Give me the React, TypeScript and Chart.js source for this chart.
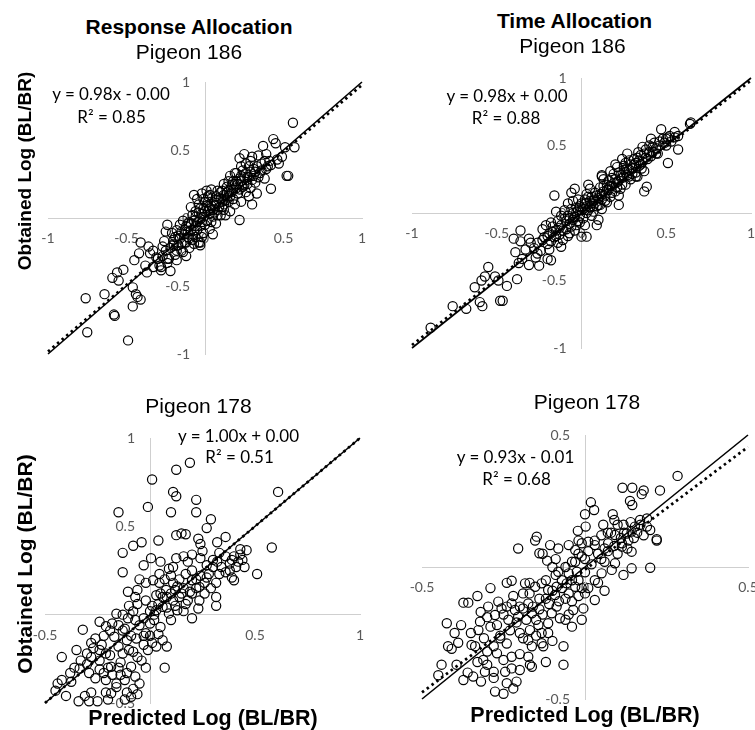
import React, { useEffect, useRef } from "react";
import { Chart, registerables } from "chart.js";

Chart.register(...registerables);

type Pt = [number, number];

// ---- tick labels ----
const ticksWide = [-1, -0.5, 0, 0.5, 1];
const ticksBLx = [-0.5, 0, 0.5, 1];
const ticksBLy = [-0.5, 0, 0.5, 1];
const ticksNarrow = [-0.5, 0, 0.5];

// ---- axis ranges (per panel: TL, TR, BL, BR) ----
const xMins = [-1, -1, -0.5, -0.5];
const xMaxs = [1, 1, 1, 0.5];
const yMins = [-1, -1, -0.5, -0.5];
const yMaxs = [1, 1, 1, 0.5];

// ---- trendlines ----
const slopes = [0.98, 0.98, 1.0, 0.93];
const intercepts = [-0.002, 0.002, 0.0, -0.01];
const eqTexts = ["y = 0.98x - 0.00", "y = 0.98x + 0.00", "y = 1.00x + 0.00", "y = 0.93x - 0.01"];
const r2Texts = ["R\u00B2 = 0.85", "R\u00B2 = 0.88", "R\u00B2 = 0.51", "R\u00B2 = 0.68"];

// ---- titles ----
const headTitles = ["Response Allocation", "Time Allocation"];
const pigeonTitles = ["Pigeon 186", "Pigeon 186", "Pigeon 178", "Pigeon 178"];
const yTitle = "Obtained Log (BL/BR)";
const xTitle = "Predicted Log (BL/BR)";

// ---- data: [predicted, obtained] ----
const resp186: Pt[] = [
  [-0.76,-0.59],[-0.64,-0.56],[-0.58,-0.71],[-0.575,-0.72],[-0.75,-0.84],[-0.49,-0.90],
  [-0.59,-0.44],[-0.55,-0.46],[-0.56,-0.40],[-0.52,-0.38],[-0.46,-0.51],[-0.44,-0.56],[-0.41,-0.60],[-0.46,-0.65],[-0.43,-0.58],
  [-0.45,-0.31],[-0.42,-0.26],[-0.41,-0.18],[-0.36,-0.21],[-0.35,-0.26],[-0.38,-0.35],[-0.37,-0.40],[-0.33,-0.36],[-0.29,-0.35],
  [-0.28,-0.385],[-0.22,-0.39],[-0.31,-0.29],[-0.33,-0.24],[-0.28,-0.36],[-0.24,-0.30],[-0.19,-0.27],[-0.15,-0.24],[-0.12,-0.18],[-0.2,-0.2],
  [-0.25,-0.10],[-0.24,-0.05],[-0.27,-0.21],[-0.20,-0.19],[-0.14,-0.25],[-0.18,-0.31],[-0.21,-0.11],[-0.18,-0.09],[-0.16,-0.15],
  [-0.11,-0.14],[-0.07,-0.19],[-0.03,-0.20],[-0.02,-0.14],[-0.03,-0.18],
  [-0.30,-0.30],[-0.27,-0.28],[-0.25,-0.24],[-0.23,-0.30],[-0.26,-0.17],[-0.22,-0.22],[-0.19,-0.14],[-0.24,-0.33],
  [-0.17,-0.20],[-0.15,-0.10],[-0.13,-0.18],[-0.12,-0.06],[-0.10,-0.22],[-0.14,-0.02],[-0.11,-0.10],[-0.16,-0.05],[-0.18,-0.24],
  [-0.12,-0.28],[-0.10,-0.15],[-0.13,-0.12],
  [-0.09,-0.04],[-0.08,0.02],[-0.07,-0.09],[-0.06,0.05],[-0.05,-0.03],[-0.04,0.10],[-0.03,-0.06],[-0.02,0.03],[-0.01,-0.11],
  [-0.06,-0.14],[-0.08,-0.12],[-0.05,0.14],[-0.02,0.18],[0.00,0.12],[-0.07,0.17],[0.01,0.20],[-0.04,-0.18],[-0.09,0.08],
  [-0.01,0.07],[-0.03,-0.01],[-0.06,-0.06],
  [0.01,-0.02],[0.02,0.05],[0.03,-0.08],[0.04,0.09],[0.05,0.01],[0.06,0.13],[0.07,-0.04],[0.08,0.06],[0.09,0.15],[0.02,0.16],
  [0.05,-0.12],[0.08,0.20],[0.03,0.03],[0.06,0.04],[0.10,0.02],[0.04,0.21],
  [0.11,0.08],[0.12,0.17],[0.13,0.02],[0.14,0.23],[0.15,0.12],[0.16,0.05],[0.17,0.19],[0.18,0.27],[0.19,0.10],[0.12,0.25],
  [0.16,0.31],[0.14,0.15],[0.18,0.14],[0.11,0.12],[0.20,0.22],[0.22,-0.015],
  [0.21,0.18],[0.22,0.29],[0.23,0.12],[0.24,0.35],[0.25,0.24],[0.26,0.19],[0.27,0.30],[0.28,0.38],[0.29,0.22],[0.25,0.47],
  [0.22,0.44],[0.29,0.42],[0.30,0.10],[0.23,0.31],[0.26,0.40],[0.20,0.33],[0.28,0.16],
  [0.31,0.31],[0.32,0.26],[0.33,0.38],[0.33,0.18],[0.35,0.33],[0.36,0.40],[0.37,0.53],[0.38,0.29],[0.39,0.47],[0.39,0.36],
  [0.41,0.42],[0.42,0.215],[0.42,0.39],[0.435,0.58],[0.45,0.55],[0.46,0.43],[0.47,0.40],[0.49,0.45],[0.51,0.52],[0.52,0.31],
  [0.53,0.31],[0.56,0.70],[0.57,0.52],[0.30,0.45],[0.34,0.46],[0.31,0.36],
  [-0.2,-0.16],[-0.17,-0.13],[-0.15,-0.19],[-0.13,-0.09],[-0.11,-0.04],[-0.09,-0.09],[-0.08,-0.16],[-0.07,-0.02],[-0.06,0.01],
  [-0.05,-0.09],[-0.04,0.04],[-0.03,0.07],[-0.02,-0.03],[-0.01,0.01],[0.0,0.05],[0.0,-0.05],[0.01,0.09],[0.02,0.12],[0.03,0.07],
  [0.04,-0.03],[0.05,0.06],[0.06,0.09],[0.07,0.11],[0.08,0.02],[0.09,0.08],[0.1,0.14],[0.11,0.2],[0.12,0.1],[0.13,0.13],
  [0.14,0.19],[0.15,0.2],[0.16,0.16],[0.17,0.24],[0.18,0.21],[0.19,0.25],[0.2,0.27],[0.21,0.25],[0.22,0.21],[0.23,0.27],
  [0.24,0.23],[0.25,0.3],[0.26,0.33],[0.27,0.25],[0.28,0.3],[0.29,0.34],[0.3,0.28],[0.32,0.34],[0.34,0.3],[0.36,0.35],
  [0.38,0.42],[0.4,0.38],[0.15,0.27],[0.1,0.19],[0.07,0.16],[0.19,0.33],[0.23,0.38],[-0.01,0.14],[0.03,0.17],[-0.1,-0.03],[0.12,0.06]
];

const time186: Pt[] = [
  [-0.89,-0.85],[-0.76,-0.69],[-0.68,-0.71],[-0.585,-0.69],[-0.60,-0.66],[-0.48,-0.65],[-0.465,-0.65],[-0.63,-0.55],
  [-0.59,-0.50],[-0.55,-0.40],[-0.57,-0.47],[-0.51,-0.47],[-0.49,-0.50],[-0.44,-0.54],[-0.38,-0.49],[-0.37,-0.37],
  [-0.39,-0.29],[-0.35,-0.34],[-0.36,-0.13],[-0.40,-0.19],[-0.36,-0.21],[-0.31,-0.19],[-0.30,-0.22],[-0.33,-0.27],
  [-0.31,-0.385],[-0.25,-0.39],[-0.26,-0.30],[-0.20,-0.34],[-0.18,-0.35],[-0.19,-0.27],[-0.12,-0.25],[-0.16,0.13],
  [-0.23,-0.12],[-0.21,-0.09],[-0.15,0.01],[0.0,-0.175],[0.03,-0.175],[0.12,0.27],[0.22,0.06],[0.37,0.16],[0.385,0.195],
  [0.32,0.27],[0.09,-0.09],[0.10,-0.05],[0.04,0.21],[-0.06,0.15],[-0.04,0.18],
  [0.64,0.66],[0.645,0.67],[0.47,0.62],[0.51,0.56],[0.55,0.56],[0.57,0.57],[0.41,0.55],[0.57,0.47],[0.51,0.37],[0.45,0.44],
  [0.335,0.45],[0.28,0.39],[0.25,0.32],[0.12,0.28],[0.20,0.36],[0.355,0.33],[0.41,0.42],
  [-0.28,-0.26],[-0.26,-0.22],[-0.24,-0.28],[-0.22,-0.18],[-0.2,-0.23],[-0.27,-0.33],[-0.23,-0.20],
  [-0.19,-0.15],[-0.18,-0.21],[-0.17,-0.10],[-0.16,-0.18],[-0.15,-0.13],[-0.14,-0.06],[-0.13,-0.16],[-0.12,-0.09],
  [-0.11,-0.20],[-0.10,-0.04],[-0.18,-0.07],[-0.14,-0.22],
  [-0.09,-0.12],[-0.08,-0.02],[-0.07,-0.08],[-0.06,0.03],[-0.05,-0.05],[-0.04,-0.13],[-0.03,0.01],[-0.02,-0.06],
  [-0.01,0.05],[-0.08,0.07],[-0.05,0.09],[-0.03,-0.09],[-0.1,0.02],[-0.02,0.1],[-0.07,-0.15],[-0.01,-0.02],
  [0.0,0.02],[0.01,-0.04],[0.02,0.07],[0.03,0.0],[0.04,0.12],[0.05,0.04],[0.06,-0.02],[0.07,0.09],[0.08,0.15],[0.09,0.05],
  [0.02,-0.09],[0.05,0.18],[0.07,0.01],[0.1,0.11],[0.03,0.14],[0.06,0.07],
  [0.11,0.06],[0.12,0.14],[0.13,0.20],[0.14,0.09],[0.15,0.17],[0.16,0.24],[0.17,0.12],[0.18,0.20],[0.19,0.29],[0.12,0.03],
  [0.15,0.08],[0.17,0.31],[0.13,0.25],[0.2,0.16],[0.11,0.19],[0.18,0.26],
  [0.21,0.23],[0.22,0.30],[0.23,0.18],[0.24,0.26],[0.25,0.35],[0.26,0.21],[0.27,0.28],[0.28,0.32],[0.29,0.25],[0.21,0.34],
  [0.24,0.40],[0.27,0.44],[0.3,0.29],[0.22,0.13],[0.26,0.37],
  [0.31,0.36],[0.32,0.30],[0.33,0.41],[0.34,0.35],[0.35,0.43],[0.36,0.38],[0.37,0.31],[0.38,0.47],[0.39,0.40],[0.40,0.50],
  [0.42,0.45],[0.43,0.52],[0.44,0.48],[0.46,0.53],[0.48,0.55],[0.5,0.5],[0.52,0.57],[0.36,0.49],[0.33,0.27],
  [-0.2,-0.17],[-0.17,-0.14],[-0.15,-0.17],[-0.13,-0.11],[-0.11,-0.13],[-0.09,-0.06],[-0.07,-0.04],[-0.06,-0.1],[-0.05,0.0],
  [-0.04,-0.03],[-0.03,0.04],[-0.02,0.02],[-0.01,-0.07],[0.0,0.07],[0.01,0.03],[0.02,0.1],[0.03,0.05],[0.04,0.02],[0.05,0.09],
  [0.06,0.12],[0.07,0.05],[0.08,0.1],[0.09,0.13],[0.1,0.06],[0.11,0.14],[0.12,0.1],[0.13,0.16],[0.14,0.13],[0.15,0.21],
  [0.16,0.17],[0.17,0.2],[0.18,0.15],[0.19,0.22],[0.2,0.25],[0.21,0.19],[0.22,0.24],[0.23,0.28],[0.24,0.21],[0.25,0.27],
  [0.26,0.3],[0.27,0.33],[0.28,0.27],[0.29,0.36],[0.3,0.33],[0.31,0.4],[0.32,0.37],[0.34,0.39],[0.35,0.36],[0.37,0.44],
  [0.38,0.41],[0.4,0.45],[0.42,0.49],[0.44,0.44],[0.46,0.5],[0.49,0.52],[0.5,0.55],[0.53,0.53],[0.55,0.6],[-0.12,-0.02],[-0.08,-0.17]
];

const resp178: Pt[] = [
  [0.19,0.86],[0.125,0.82],[0.01,0.765],[0.11,0.695],[0.125,0.67],[0.22,0.65],[-0.01,0.61],[0.10,0.58],[0.22,0.58],
  [-0.15,0.58],[0.29,0.54],[0.27,0.49],[0.61,0.695],[0.125,0.45],[0.15,0.46],[0.17,0.455],[0.23,0.43],[0.04,0.42],
  [-0.04,0.41],[-0.08,0.39],[0.36,0.44],[0.32,0.41],[0.24,0.40],[0.58,0.38],[0.43,0.37],[-0.13,0.35],[0.005,0.32],
  [-0.03,0.28],[-0.13,0.24],[0.045,0.23],[0.09,0.26],[0.125,0.32],
  [0.16,0.33],[0.20,0.34],[0.24,0.32],[0.27,0.28],[0.30,0.31],[0.33,0.35],[0.36,0.33],[0.39,0.31],[0.43,0.34],[0.46,0.365],
  [0.45,0.27],[0.41,0.27],[0.38,0.25],[0.33,0.23],[0.315,0.18],[0.29,0.15],[0.39,0.21],[0.40,0.195],[0.51,0.23],[0.315,0.05],
  [0.23,0.035],[0.20,-0.02],
  [0.11,0.18],[0.15,0.12],[0.17,0.06],[0.13,0.025],[0.09,0.007],[0.06,0.044],[0.03,0.025],[0.077,0.14],[0.235,0.157],
  [0.27,0.21],[0.20,0.195],[0.17,0.23],[0.315,0.10],[0.235,0.08],[0.11,0.08],[0.045,0.18],[0.015,0.195],[-0.02,0.18],
  [0.14,0.2],[0.19,0.13],[0.26,0.12],[0.08,0.1],[0.12,0.14],[0.2,0.25],[0.05,0.12],[0.1,0.22],[0.16,0.02],[0.22,0.2],
  [-0.105,0.13],[-0.06,0.14],[-0.02,0.08],[0.03,0.11],[-0.16,0.005],[-0.13,0.0],[-0.105,-0.02],[-0.24,-0.04],[-0.32,-0.085],
  [-0.26,-0.135],[-0.21,-0.065],[-0.17,-0.125],[-0.19,-0.09],[-0.11,-0.145],[-0.065,-0.135],[-0.02,-0.105],[0.03,-0.18],
  [0.08,-0.18],[0.06,-0.145],[0.07,-0.30],
  [-0.42,-0.24],[-0.335,-0.305],[-0.44,-0.39],[-0.42,-0.37],[-0.375,-0.38],[-0.34,-0.49],[-0.29,-0.49],[-0.28,-0.44],
  [-0.25,-0.49],[-0.30,-0.28],[-0.28,-0.24],[-0.24,-0.26],[-0.21,-0.22],[-0.29,-0.33],[-0.24,-0.31],[-0.21,-0.37],
  [-0.185,-0.295],[-0.16,-0.39],[-0.11,-0.33],[-0.09,-0.295],[-0.08,-0.42],[-0.09,-0.465],[-0.11,-0.44],[-0.16,-0.41],
  [-0.185,-0.445],[-0.08,-0.21],[-0.06,-0.24],[-0.03,-0.17],[-0.01,-0.20],[-0.21,-0.44],
  [-0.27,-0.19],[-0.23,-0.17],[-0.15,-0.18],[-0.13,-0.22],[-0.05,-0.06],[-0.07,-0.03],[0.0,-0.05],[0.02,0.0],[0.05,-0.07],
  [0.1,-0.03],[-0.35,-0.2],[-0.14,-0.27],[-0.02,-0.3],[-0.04,-0.26],[-0.12,-0.08],[-0.08,0.02],[-0.03,-0.02],[0.01,0.05],
  [-0.18,-0.05],[-0.06,0.06],[0.0,-0.12],[-0.1,-0.2],[-0.2,-0.3],[-0.14,-0.34],
  [0.0,0.02],[0.02,-0.03],[0.04,0.06],[0.06,0.1],[0.08,0.04],[0.1,0.12],[0.12,0.05],[0.14,0.1],[0.16,0.15],[0.18,0.08],
  [0.2,0.12],[0.22,0.15],[0.24,0.22],[0.26,0.18],[0.28,0.23],[0.3,0.27],[0.32,0.3],[0.34,0.27],[0.36,0.24],[0.38,0.29],
  [0.4,0.33],[0.42,0.3],[0.44,0.31],[0.13,0.16],[0.07,0.2],[0.11,0.27],[0.18,0.3],[0.25,0.36],[0.05,0.3],[-0.05,0.2],
  [-0.1,0.05],[-0.07,0.1],[-0.15,-0.06],[-0.22,-0.12],[-0.28,-0.16],[-0.3,-0.22],[-0.33,-0.26],[-0.36,-0.3],[-0.38,-0.33],
  [-0.26,-0.36],[-0.22,-0.33],[-0.18,-0.34],[-0.12,-0.37],[-0.07,-0.35],[-0.05,-0.39],[-0.03,-0.12],[0.01,-0.16],[0.04,-0.11],
  [-0.13,-0.09],[-0.09,-0.12],[-0.15,-0.3],[-0.19,-0.23],[-0.24,-0.2],[-0.45,-0.43],[-0.4,-0.46],[-0.31,-0.46],[-0.2,-0.48],
  [-0.12,-0.48],[-0.06,-0.45]
];

const time178: Pt[] = [
  [0.284,0.345],[0.115,0.30],[0.145,0.30],[0.18,0.29],[0.174,0.276],[0.23,0.29],[0.138,0.25],[0.145,0.235],[0.018,0.245],
  [0.028,0.216],[0.0,0.20],[0.085,0.20],[0.09,0.178],[0.056,0.16],[0.118,0.16],[0.169,0.178],[0.19,0.184],[0.19,0.153],
  [0.22,0.105],[-0.022,0.137],[0.002,0.153],[-0.148,0.115],[-0.107,0.083],[-0.05,0.083],[-0.02,0.10],[-0.01,0.09],
  [0.092,0.121],[0.128,0.127],[0.143,0.134],[0.133,0.10],[0.113,0.09],[0.071,0.09],[0.153,0.153],[-0.205,0.07],
  [-0.14,0.052],[-0.116,0.024],[-0.153,0.10],[-0.082,0.07],[-0.03,0.064],[0.01,0.096],[0.03,0.083],[0.06,0.07],
  [0.113,0.077],[0.143,0.058],[0.22,0.10],[0.20,-0.003],[0.143,-0.005],[0.118,-0.03],[0.092,0.014],[0.082,-0.011],
  [0.051,-0.024],[0.03,-0.05],[0.03,-0.125],[-0.005,-0.157],[-0.01,-0.20],[-0.04,-0.226],[-0.036,-0.163],[-0.066,-0.30],
  [-0.066,-0.37],[-0.02,-0.11],[0.01,-0.08],
  [-0.29,-0.08],[-0.225,-0.052],[-0.184,-0.062],[-0.373,-0.135],[-0.358,-0.135],[-0.424,-0.213],[-0.409,-0.31],
  [-0.389,-0.287],[-0.44,-0.37],[-0.45,-0.41],[-0.373,-0.428],[-0.394,-0.37],[-0.343,-0.415],[-0.319,-0.434],
  [-0.276,-0.472],[-0.25,-0.48],[-0.22,-0.46],[-0.21,-0.434],[-0.24,-0.44],[-0.307,-0.397],[-0.28,-0.397],[-0.245,-0.397],
  [-0.225,-0.384],[-0.2,-0.39],[-0.169,-0.37],[-0.163,-0.378],[-0.174,-0.34],[-0.225,-0.34],[-0.25,-0.352],[-0.27,-0.327],
  [-0.312,-0.352],[-0.348,-0.295],[-0.337,-0.30],
  [-0.327,-0.239],[-0.322,-0.207],[-0.29,-0.226],[-0.297,-0.15],[-0.266,-0.131],[-0.256,-0.157],[-0.276,-0.182],[-0.24,-0.15],
  [-0.225,-0.138],[-0.215,-0.163],[-0.235,-0.2],[-0.205,-0.188],[-0.19,-0.157],[-0.174,-0.138],[-0.163,-0.175],
  [-0.169,-0.239],[-0.174,-0.277],[-0.163,-0.30],[-0.133,-0.289],[-0.128,-0.30],[-0.113,-0.213],[-0.102,-0.175],
  [-0.087,-0.15],[-0.077,-0.194],[-0.113,-0.25],[-0.133,-0.25],[-0.143,-0.22],
  [-0.153,-0.075],[-0.133,-0.062],[-0.113,-0.087],[-0.092,-0.106],[-0.087,-0.075],[-0.071,-0.05],[-0.05,-0.024],
  [-0.04,-0.05],[-0.03,-0.075],[-0.01,-0.08],[-0.082,-0.018],[-0.056,-0.062],[-0.025,-0.018],
  [-0.12,-0.12],[-0.06,-0.12],[-0.14,-0.16],[-0.2,-0.25],[-0.15,-0.2],[-0.06,-0.2],[0.05,0.03],[0.0,0.03],[-0.04,0.02],
  [0.07,0.13],[0.1,0.05],[-0.1,0.0],[-0.19,-0.1],[-0.26,-0.27],[-0.3,-0.32],
  [-0.35,-0.25],[-0.33,-0.36],[-0.31,-0.27],[-0.3,-0.19],[-0.28,-0.3],[-0.27,-0.22],[-0.26,-0.26],[-0.25,-0.18],[-0.24,-0.29],
  [-0.23,-0.24],[-0.22,-0.11],[-0.21,-0.21],[-0.2,-0.15],[-0.19,-0.27],[-0.18,-0.2],[-0.17,-0.1],[-0.16,-0.15],[-0.15,-0.26],
  [-0.14,-0.12],[-0.13,-0.18],[-0.12,-0.05],[-0.11,-0.14],[-0.1,-0.09],[-0.09,-0.03],[-0.08,-0.13],[-0.07,-0.08],[-0.06,0.0],
  [-0.05,-0.1],[-0.04,-0.13],[-0.03,0.02],[-0.02,-0.05],[-0.01,0.04],[0.0,-0.02],[0.01,0.06],[0.02,0.01],[0.03,0.1],
  [0.04,0.05],[0.05,0.12],[0.06,0.02],[0.07,0.06],[0.08,0.13],[0.09,0.08],[0.1,0.16],[0.11,0.11],[0.12,0.13],[0.13,0.07],
  [0.14,0.17],[0.15,0.11],[0.16,0.13],[0.17,0.16],[0.18,0.12],[0.2,0.14],[-0.42,-0.3],[-0.4,-0.25],[-0.38,-0.22],[-0.36,-0.4],
  [-0.32,-0.17],[-0.3,-0.37],[-0.28,-0.42],[-0.2,-0.33],[-0.17,-0.06],[-0.13,0.05],[-0.09,0.03],[-0.02,0.05],[0.04,-0.06],
  [0.06,-0.09],[0.0,-0.1],[-0.12,-0.36],[-0.1,-0.28],[-0.05,-0.18],[-0.24,-0.06],[-0.33,-0.11]
];

const TICK_COLOR = "#595959";
const AXIS_COLOR = "#cfcfcf";

// plot-area boxes (pixels) for TL, TR, BL, BR
const BOXES = [
  { left: 48, top: 82, right: 362, bottom: 354 },
  { left: 412, top: 78, right: 751, bottom: 348 },
  { left: 45, top: 438, right: 360, bottom: 703 },
  { left: 422, top: 435, right: 748, bottom: 699 },
];
const PAD = 30;

function yLabelPlugin() {
  return {
    id: "yTickLabels",
    beforeDatasetsDraw(chart: any) {
      const ctx = chart.ctx;
      const xs = chart.scales.x;
      const ys = chart.scales.y;
      const x0 = xs.getPixelForValue(0) - 15;
      ctx.save();
      ctx.font = "14px Lato";
      ctx.fillStyle = TICK_COLOR;
      ctx.textAlign = "right";
      ctx.textBaseline = "middle";
      ys.ticks.forEach((t: any) => {
        ctx.fillText(String(t.value), x0, ys.getPixelForValue(t.value));
      });
      ctx.restore();
    },
  };
}

function Panel({ idx, points, xTicks, yTicks }: { idx: number; points: Pt[]; xTicks: number[]; yTicks: number[] }) {
  const ref = useRef<HTMLCanvasElement>(null);
  const B = BOXES[idx];
  const w = B.right - B.left + 2 * PAD;
  const h = B.bottom - B.top + 2 * PAD;
  useEffect(() => {
    const xMin = xMins[idx], xMax = xMaxs[idx], yMin = yMins[idx], yMax = yMaxs[idx];
    const lo = Math.max(xMin, yMin);
    const hi = Math.min(xMax, yMax);
    const m = slopes[idx], b = intercepts[idx];
    const chart = new Chart(ref.current as HTMLCanvasElement, {
      type: "scatter",
      data: {
        datasets: [
          {
            data: [{ x: lo, y: lo }, { x: hi, y: hi }],
            showLine: true,
            borderColor: "#000",
            borderWidth: 1.6,
            pointRadius: 0,
            clip: false,
          } as any,
          {
            data: [{ x: xMin, y: m * xMin + b }, { x: xMax, y: m * xMax + b }],
            showLine: true,
            borderColor: "#000",
            borderWidth: 2.75,
            borderDash: [2.5, 3.5],
            pointRadius: 0,
            clip: false,
          } as any,
          {
            data: points.map(([x, y]) => ({ x, y })),
            pointRadius: 4.6,
            pointBorderWidth: 1.2,
            pointBorderColor: "#000",
            pointBackgroundColor: "rgba(0,0,0,0)",
            borderColor: "#000",
            backgroundColor: "rgba(0,0,0,0)",
            clip: false,
          } as any,
        ],
      },
      options: {
        animation: false,
        responsive: false,
        maintainAspectRatio: false,
        devicePixelRatio: 1,
        events: [],
        layout: { padding: PAD },
        plugins: { legend: { display: false }, tooltip: { enabled: false }, title: { display: false } },
        scales: {
          x: {
            type: "linear",
            min: xMin,
            max: xMax,
            position: { y: 0 } as any,
            grid: { display: false, drawTicks: false },
            border: { display: true, color: AXIS_COLOR, width: 1 },
            afterBuildTicks: (s: any) => {
              s.ticks = xTicks.map((v) => ({ value: v }));
            },
            ticks: {
              autoSkip: false,
              maxRotation: 0,
              padding: 12.5,
              color: TICK_COLOR,
              font: { family: "Lato", size: 14 },
              callback: (v: any) => String(v),
            },
          },
          y: {
            type: "linear",
            min: yMin,
            max: yMax,
            position: { x: 0 } as any,
            grid: { display: false, drawTicks: false },
            border: { display: true, color: AXIS_COLOR, width: 1 },
            afterBuildTicks: (s: any) => {
              s.ticks = yTicks.map((v) => ({ value: v }));
            },
            ticks: { display: false },
          },
        },
      } as any,
      plugins: [yLabelPlugin() as any],
    });
    return () => chart.destroy();
  }, []);
  return (
    <canvas
      ref={ref}
      width={w}
      height={h}
      style={{ position: "absolute", left: B.left - PAD, top: B.top - PAD, width: w, height: h }}
    />
  );
}

const SANS = "'Liberation Sans', Arial, sans-serif";
const CAL = "Lato, 'Open Sans', sans-serif";

function Txt({ text, cx, baseline, size, bold, family, k }: any) {
  return (
    <div
      style={{
        position: "absolute",
        left: cx,
        top: baseline - k * size,
        transform: "translateX(-50%)",
        whiteSpace: "nowrap",
        fontFamily: family,
        fontSize: size,
        fontWeight: bold ? 700 : 400,
        lineHeight: `${size}px`,
        color: "#000",
      }}
    >
      {text}
    </div>
  );
}

function VTxt({ text, cx, cy, size }: any) {
  return (
    <div
      style={{
        position: "absolute",
        left: cx,
        top: cy,
        transform: "translate(-50%, -50%) rotate(-90deg)",
        whiteSpace: "nowrap",
        fontFamily: SANS,
        fontSize: size,
        fontWeight: 700,
        lineHeight: `${size}px`,
        color: "#000",
      }}
    >
      {text}
    </div>
  );
}

const KS = 0.8465;
const KL = 0.887;

export default function App() {
  return (
    <div
      style={{
        position: "absolute",
        left: 0,
        top: 0,
        width: 755,
        height: 730,
        overflow: "hidden",
        background: "#fff",
      }}
    >
      <Panel idx={0} points={resp186} xTicks={ticksWide} yTicks={ticksWide} />
      <Panel idx={1} points={time186} xTicks={ticksWide} yTicks={ticksWide} />
      <Panel idx={2} points={resp178} xTicks={ticksBLx} yTicks={ticksBLy} />
      <Panel idx={3} points={time178} xTicks={ticksNarrow} yTicks={ticksNarrow} />

      <Txt text={headTitles[0]} cx={189} baseline={34} size={21} bold family={SANS} k={KS} />
      <Txt text={pigeonTitles[0]} cx={189} baseline={59} size={21} family={SANS} k={KS} />
      <Txt text={headTitles[1]} cx={574.5} baseline={28} size={21} bold family={SANS} k={KS} />
      <Txt text={pigeonTitles[1]} cx={572.5} baseline={53} size={21} family={SANS} k={KS} />
      <Txt text={pigeonTitles[2]} cx={198.5} baseline={413} size={21} family={SANS} k={KS} />
      <Txt text={pigeonTitles[3]} cx={587} baseline={409} size={21} family={SANS} k={KS} />

      <Txt text={eqTexts[0]} cx={111} baseline={100} size={17} family={CAL} k={KL} />
      <Txt text={r2Texts[0]} cx={111.5} baseline={123} size={17} family={CAL} k={KL} />
      <Txt text={eqTexts[1]} cx={507} baseline={101.7} size={17} family={CAL} k={KL} />
      <Txt text={r2Texts[1]} cx={506} baseline={124} size={17} family={CAL} k={KL} />
      <Txt text={eqTexts[2]} cx={238.5} baseline={442} size={17} family={CAL} k={KL} />
      <Txt text={r2Texts[2]} cx={239.5} baseline={463} size={17} family={CAL} k={KL} />
      <Txt text={eqTexts[3]} cx={515.5} baseline={463} size={17} family={CAL} k={KL} />
      <Txt text={r2Texts[3]} cx={516.5} baseline={485} size={17} family={CAL} k={KL} />

      <VTxt text={yTitle} cx={24} cy={171} size={19} />
      <VTxt text={yTitle} cx={24} cy={564} size={21} />
      <Txt text={xTitle} cx={203} baseline={726} size={21.5} bold family={SANS} k={KS} />
      <Txt text={xTitle} cx={585} baseline={723.3} size={21.5} bold family={SANS} k={KS} />
    </div>
  );
}
